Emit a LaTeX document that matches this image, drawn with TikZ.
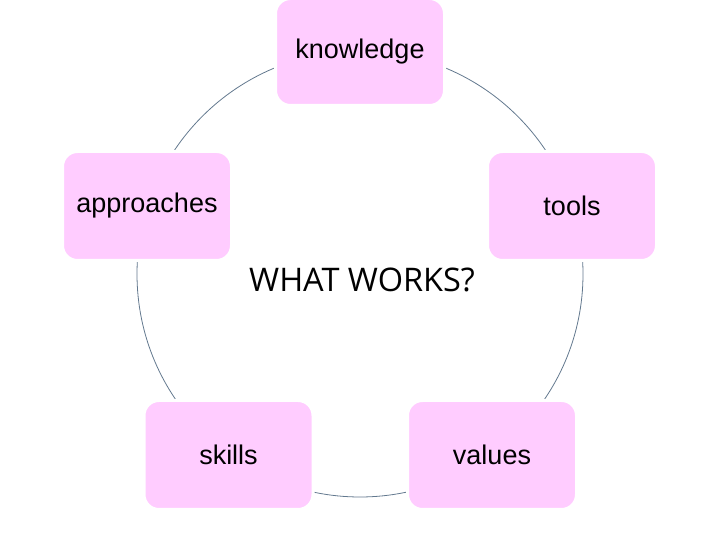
\documentclass[tikz,border=0pt]{standalone}
\usepackage{fontspec}
\setmainfont{Liberation Sans}
\newfontfamily\titlefont{Open Sans}
\definecolor{boxpink}{HTML}{FFCCFF}
\definecolor{ringcol}{HTML}{62788E}
\begin{document}
\begin{tikzpicture}[x=1pt,y=1pt,
  card/.style={rectangle, rounded corners=15pt, fill=boxpink, draw=white, line width=3pt,
    minimum width=169pt, minimum height=109pt, inner sep=0pt, font=\fontsize{27}{32}\selectfont}]
\useasboundingbox (0,0) rectangle (720,540);
\draw[ringcol, line width=0.8pt] (360,266) circle (223);
\node[card, minimum height=107pt] (knowledge) at (360,488) {knowledge};
\node[card] (approaches) at (147,334) {approaches};
\node[card] (tools) at (572,334) {tools};
\node[card] (skills) at (228.5,85) {skills};
\node[card] (values) at (492,85) {values};
\node[anchor=base, inner sep=0pt, font=\titlefont\fontsize{32.5}{38}\selectfont] (what) at (362,248) {WHAT WORKS?};
\end{tikzpicture}
\end{document}
